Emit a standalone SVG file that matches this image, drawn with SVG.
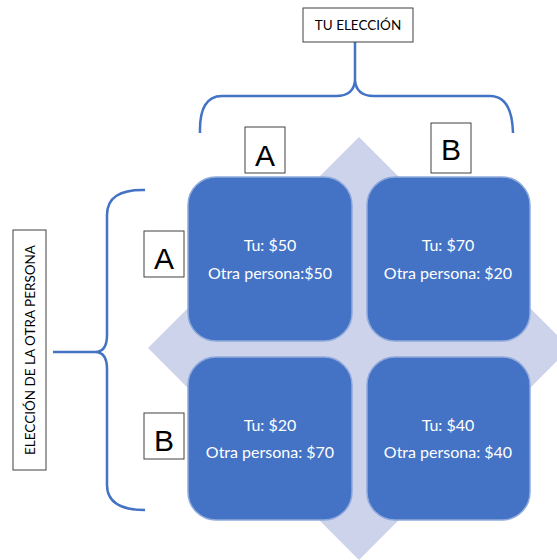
<svg xmlns="http://www.w3.org/2000/svg" width="557" height="560" viewBox="0 0 557 560">
<style>
.cell{fill:#4472C4;stroke:#8FAADC;stroke-width:1.5}
.ct{font-family:Lato,"Open Sans",sans-serif;font-size:16px;fill:#FFFFFF;text-anchor:middle}
.lb{fill:#FFFFFF;stroke:#404040;stroke-width:1}
.lt{font-family:"Liberation Sans",Arial,sans-serif;font-size:30px;fill:#000;text-anchor:middle}
.st{font-family:Lato,"Open Sans",sans-serif;font-size:13.5px;fill:#000;text-anchor:middle}
.br{fill:none;stroke:#4472C4;stroke-width:2.5;stroke-linejoin:round}
</style>
<rect width="557" height="560" fill="#FFFFFF"/>
<polygon points="359,137 570,348 359,560 148,348" fill="#CDD3EA"/>
<g id="connectors">
<path class="br" d="M200,133 Q199,96 222,96 L336,96 Q354,96 355,80 L355,42 M355,80 Q356,96 374,96 L490,96 Q512,96 513,133"/>
<path class="br" d="M145,190 Q107,189 107,215 L107,335 Q107,352 95,352 L53,352 M95,352 Q107,352 107,369 L107,485 Q107,510 145,510"/>
</g>
<g id="cell-aa"><rect class="cell" x="188" y="177" width="164" height="164" rx="28"/><text class="ct" x="270" y="251">Tu: $50</text><text class="ct" x="270" y="279">Otra persona:$50</text></g>
<g id="cell-ab"><rect class="cell" x="367" y="177" width="163" height="164" rx="28"/><text class="ct" x="448" y="251">Tu: $70</text><text class="ct" x="448" y="279">Otra persona: $20</text></g>
<g id="cell-ba"><rect class="cell" x="188" y="357" width="164" height="163" rx="28"/><text class="ct" x="270" y="431">Tu: $20</text><text class="ct" x="270" y="458">Otra persona: $70</text></g>
<g id="cell-bb"><rect class="cell" x="367" y="357" width="163" height="163" rx="28"/><text class="ct" x="448" y="431">Tu: $40</text><text class="ct" x="448" y="458">Otra persona: $40</text></g>
<g id="label-tu"><rect class="lb" x="303" y="8" width="110" height="34"/><text class="st" x="358" y="30">TU ELECCIÓN</text></g>
<g id="label-otra"><rect class="lb" x="13" y="230" width="33" height="240"/><text class="st" transform="translate(34.5,350) rotate(-90)" x="0" y="0">ELECCIÓN DE LA OTRA PERSONA</text></g>
<g id="col-a"><rect class="lb" x="245" y="127" width="40" height="46"/><text class="lt" x="265" y="166">A</text></g>
<g id="col-b"><rect class="lb" x="431" y="123" width="40" height="50"/><text class="lt" x="451" y="160">B</text></g>
<g id="row-a"><rect class="lb" x="144" y="231" width="40" height="46"/><text class="lt" x="164" y="269">A</text></g>
<g id="row-b"><rect class="lb" x="144" y="413" width="40" height="46"/><text class="lt" x="164" y="451">B</text></g>
</svg>
